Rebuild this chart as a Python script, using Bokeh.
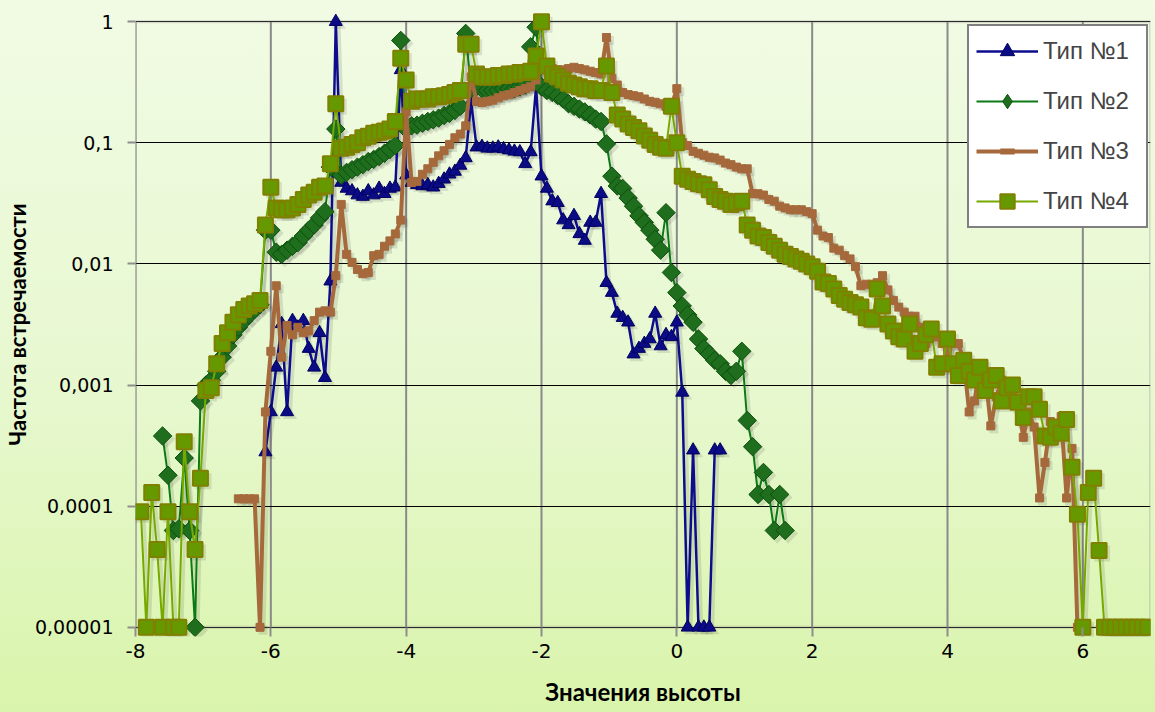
import numpy as np
from bokeh.plotting import figure
from bokeh.models import (FixedTicker, CustomJSTickFormatter, Range1d, Legend,
                          LegendItem, BoxAnnotation)
from bokeh.embed import file_html
from bokeh.resources import INLINE

# ---------------- data ----------------
STEP = 0.08  # spacing of the height values
series_names = ["Тип №1", "Тип №2", "Тип №3", "Тип №4"]
start_index = [-76, -95, -81, -99]  # first height = index * STEP

type1_values = [
    2.8e-4, 6e-4, 1.4e-3, 3.2e-3, 6e-4, 3.4e-3, 3.0e-3, 3.4e-3, 2.0e-3, 1.4e-3, 2.7e-3, 1.15e-3, 7.2e-3,
    1.0, 0.047, 0.042, 0.040, 0.037, 0.036, 0.040, 0.037, 0.042, 0.038, 0.042, 0.043,
    0.4, 0.054, 0.047, 0.045, 0.044, 0.045, 0.043, 0.046, 0.05, 0.055, 0.058, 0.065, 0.075,
    0.22, 0.092, 0.093, 0.09, 0.09, 0.092, 0.089, 0.087, 0.085, 0.084, 0.067, 0.084,
    0.29, 0.053, 0.042, 0.033, 0.032, 0.023, 0.021, 0.025, 0.0177, 0.0156, 0.022, 0.022, 0.038,
    0.007, 0.0058, 0.0039, 0.0036, 0.0033, 0.0018, 0.002, 0.0022, 0.0024, 0.0039, 0.0021, 0.0026, 0.0025,
    0.0033, 8.7e-4, 1e-5, 2.9e-4, 1e-5, 1e-5, 1e-5, 2.9e-4, 2.9e-4,
]

type2_values = [
    3.8e-4, 1.8e-4, 6.3e-5, 6.5e-5, 2.5e-4, 6.3e-5, 1e-5, 7.4e-4, 1.0e-3,
    1.1e-3, 1.3e-3, 1.7e-3, 2.1e-3, 2.6e-3, 3.0e-3, 3.4e-3, 3.8e-3, 4.2e-3, 4.6e-3,
    0.019, 0.019, 0.0125, 0.012, 0.013, 0.014, 0.015, 0.017, 0.019, 0.021, 0.024, 0.027, 0.063,
    0.13, 0.054, 0.057, 0.060, 0.063, 0.066, 0.070, 0.073, 0.077, 0.082, 0.088, 0.095,
    0.70, 0.13, 0.138, 0.14, 0.145, 0.15, 0.155, 0.16, 0.168, 0.175, 0.185, 0.2, 0.8,
    0.28, 0.29, 0.28, 0.27, 0.27, 0.27, 0.28, 0.28, 0.28, 0.29, 0.3, 0.62,
    0.9, 0.29, 0.27, 0.26, 0.245, 0.23, 0.21, 0.20, 0.19, 0.18, 0.17, 0.157, 0.15,
    0.098, 0.053, 0.044, 0.042, 0.035, 0.03, 0.025, 0.022, 0.019, 0.016, 0.013, 0.0265, 0.0085,
    0.0058, 0.0045, 0.0038, 0.0033, 0.0024, 0.002, 0.0018, 0.0016, 0.0015, 0.0013, 0.0012, 0.0013, 0.0019,
    5.1e-4, 3.1e-4, 1.25e-4, 1.9e-4, 1.25e-4, 6.3e-5, 1.25e-4, 6.3e-5,
]

type3_values = [
    1.15e-4, 1.15e-4, 1.15e-4, 1.15e-4, 1e-5, 6e-4, 1.9e-3, 6.6e-3, 1.7e-3, 3.1e-3, 2.6e-3, 3.0e-3,
    2.7e-3, 2.8e-3, 3.4e-3, 4.0e-3, 4.1e-3, 4.0e-3, 8e-3, 0.031, 0.012, 0.0103, 0.009, 0.0083, 0.0085,
    0.0117, 0.012, 0.014, 0.0155, 0.0177, 0.023, 0.18, 0.047, 0.048, 0.055, 0.061, 0.069, 0.078,
    0.086, 0.097, 0.11, 0.118, 0.138, 0.35, 0.22, 0.215, 0.22, 0.225, 0.235, 0.245, 0.25,
    0.26, 0.27, 0.28, 0.29, 0.33, 0.42, 0.42, 0.41, 0.40, 0.40, 0.41, 0.42, 0.41,
    0.40, 0.39, 0.38, 0.37, 0.74, 0.34, 0.30, 0.26, 0.25, 0.245, 0.24, 0.23, 0.22,
    0.216, 0.21, 0.20, 0.20, 0.28, 0.10, 0.095, 0.085, 0.082, 0.079, 0.076, 0.075, 0.072,
    0.068, 0.066, 0.063, 0.061, 0.061, 0.038, 0.038, 0.037, 0.034, 0.033, 0.030, 0.029, 0.028,
    0.028, 0.028, 0.027, 0.026, 0.019, 0.017, 0.0165, 0.0135, 0.013, 0.0117, 0.011, 0.0095, 0.0066,
    0.0068, 0.0068, 0.007, 0.008, 0.0061, 0.005, 0.0044, 0.004, 0.0037, 0.0037, 0.003, 0.0022, 0.0028,
    0.0025, 0.0022, 0.0019, 0.0022, 0.0022, 0.0016, 0.0006, 0.00074, 0.0015, 0.0012, 0.00046, 0.0008, 0.0011,
    0.0009, 0.00085, 0.0007, 0.00037, 0.0006, 0.00045, 0.000117, 0.00023, 0.0005, 0.00045, 0.00055,
    0.000117, 0.0003, 1e-5, 1e-5,
]

type4_values = [
    9e-5, 1e-5, 1.3e-4, 4.4e-5, 1e-5, 9e-5, 1e-5, 1e-5, 3.4e-4, 9e-5, 4.4e-5, 1.7e-4, 9e-4, 9.5e-4,
    1.5e-3, 2.2e-3, 2.7e-3, 3.3e-3, 3.8e-3, 4.2e-3, 4.5e-3, 4.7e-3, 5.0e-3,
    0.021, 0.043, 0.029, 0.028, 0.028, 0.029, 0.031, 0.034, 0.037, 0.039, 0.043, 0.044,
    0.067, 0.21, 0.09, 0.092, 0.097, 0.10, 0.11, 0.113, 0.12, 0.122, 0.125, 0.13, 0.15,
    0.5, 0.33, 0.22, 0.23, 0.23, 0.23, 0.24, 0.24, 0.245, 0.25, 0.26, 0.27, 0.65, 0.65,
    0.37, 0.35, 0.35, 0.35, 0.36, 0.36, 0.37, 0.37, 0.38, 0.38, 0.39, 0.52, 1.0,
    0.43, 0.37, 0.35, 0.33, 0.31, 0.30, 0.29, 0.28, 0.28, 0.27, 0.27, 0.43, 0.26,
    0.17, 0.157, 0.143, 0.134, 0.126, 0.114, 0.105, 0.097, 0.092, 0.09, 0.20, 0.10,
    0.053, 0.050, 0.048, 0.046, 0.045, 0.041, 0.036, 0.034, 0.033, 0.031, 0.032, 0.033,
    0.021, 0.019, 0.017, 0.0165, 0.015, 0.014, 0.013, 0.012, 0.0115, 0.011, 0.0105, 0.010, 0.0095,
    0.0087, 0.0071, 0.0069, 0.0062, 0.0055, 0.0051, 0.0048, 0.0046, 0.0044, 0.0036, 0.0035, 0.0062, 0.0045,
    0.0032, 0.0028, 0.0025, 0.0024, 0.0032, 0.0019, 0.0022, 0.0026, 0.0029, 0.0014, 0.0015,
    0.0024, 0.0015, 0.0012, 0.0016, 0.0013, 0.0011, 0.0014, 0.0009, 0.0011, 0.0012, 0.00074, 0.00095, 0.001,
    0.00072, 0.00054, 0.0008, 0.0008, 0.00063, 0.00038, 0.00037, 0.00045, 0.0004, 0.00052, 0.00021, 8.6e-5,
    1e-5, 1.3e-4, 1.7e-4, 4.3e-5, 1e-5, 1e-5, 1e-5, 1e-5, 1e-5, 1e-5, 1e-5, 1e-5, 1e-5,
]

x_ticks = [-8, -6, -4, -2, 0, 2, 4, 6]
x_tick_labels = ["-8", "-6", "-4", "-2", "0", "2", "4", "6"]
y_ticks = [1e-5, 1e-4, 1e-3, 1e-2, 1e-1, 1]
y_tick_labels = ["0,00001", "0,0001", "0,001", "0,01", "0,1", "1"]
x_title = "Значения высоты"
y_title = "Частота встречаемости"

# ---------------- figure ----------------
W, H = 1155, 712
BL, BR, BT, BB = 135, 5, 12, 76
X_MAX = 7
PAD_DEC = 0.0757  # room (in decades) for markers sitting on the 1 and 0,00001 lines
pad = 10 ** PAD_DEC
p = figure(width=W, height=H,
           x_range=Range1d(x_ticks[0], X_MAX), y_range=Range1d(y_ticks[0] / pad, y_ticks[-1] * pad),
           y_axis_type="log", output_backend="svg", toolbar_location=None,
           min_border_left=BL, min_border_right=BR, min_border_top=BT, min_border_bottom=BB)
p.background_fill_alpha = 0
p.border_fill_alpha = 0
p.outline_line_color = None
p.styles = {"background": "linear-gradient(to bottom, #f1fbe4 0%, #e7f8cf 55%, #d9f4ab 100%)"}

# grid
p.xgrid.visible = False
p.ygrid.ticker = FixedTicker(ticks=y_ticks)
p.ygrid.grid_line_color = "black"
p.ygrid.grid_line_width = 1
p.segment(x0=x_ticks, y0=[y_ticks[0]] * len(x_ticks), x1=x_ticks, y1=[y_ticks[-1]] * len(x_ticks),
          line_color="#8a8a8a", line_width=2, level="underlay")
box = BoxAnnotation(left=x_ticks[0], right=X_MAX, bottom=y_ticks[0], top=y_ticks[-1],
                    fill_alpha=0, line_color="#8e8e8e", line_width=3, level="underlay")
p.add_layout(box)

# axes
p.yaxis.ticker = FixedTicker(ticks=y_ticks)
p.yaxis.formatter = CustomJSTickFormatter(args=dict(tvals=y_ticks, labs=y_tick_labels), code="""
    for (let i = 0; i < tvals.length; i++) {
        if (Math.abs(Math.log10(tvals[i]) - Math.log10(tick)) < 1e-6) return labs[i];
    }
    return "";
""")
p.yaxis.axis_line_color = None
p.yaxis.major_tick_line_color = "#8e8e8e"
p.yaxis.major_tick_line_width = 2
p.yaxis.major_tick_in = 0
p.yaxis.major_tick_out = 8
p.yaxis.minor_tick_line_color = None
p.yaxis.major_label_standoff = 14
p.yaxis.major_label_text_font_size = "19px"
p.yaxis.axis_label = y_title
p.yaxis.axis_label_standoff = 1
p.yaxis.axis_label_text_font_size = "22px"

p.xaxis.ticker = FixedTicker(ticks=x_ticks)
p.xaxis.formatter = CustomJSTickFormatter(args=dict(tvals=x_ticks, labs=x_tick_labels), code="""
    for (let i = 0; i < tvals.length; i++) {
        if (Math.abs(tvals[i] - tick) < 1e-6) return labs[i];
    }
    return "";
""")
p.xaxis.axis_line_color = None
p.xaxis.major_tick_line_color = "#8e8e8e"
p.xaxis.major_tick_line_width = 2
p.xaxis.major_tick_in = 9
p.xaxis.major_tick_out = 0
p.xaxis.minor_tick_line_color = None
p.xaxis.major_label_standoff = 7
p.xaxis.major_label_text_font_size = "20px"
p.xaxis.axis_label = x_title
p.xaxis.axis_label_standoff = 16
p.xaxis.axis_label_text_font_size = "24px"

for ax in (p.xaxis, p.yaxis):
    ax.major_label_text_font = "DejaVu Sans"
    ax.major_label_text_color = "black"
    ax.axis_label_text_font = "Lato"
    ax.axis_label_text_font_style = "bold"
    ax.axis_label_text_color = "black"

# ---------------- series ----------------
def xs(k0, vals):
    return np.round((k0 + np.arange(len(vals))) * STEP, 2)

styles = [
    dict(line="#0c0c8c", lw=2.5, marker="triangle", size=13, fill="#0b0b85", edge="#000060", angle=0, ew=1),
    dict(line="#0b7a14", lw=2, marker="square", size=13, fill="#1e6e1e", edge="#0d4f0d", angle=np.pi / 4, ew=1),
    dict(line="#a5693c", lw=4, marker="square", size=8, fill="#a5693c", edge="#a5693c", angle=0, ew=1),
    dict(line="#77a800", lw=2, marker="square", size=15, fill="#669900", edge="#808000", angle=0, ew=2),
]
# marker shapes used only for the legend swatches
legend_markers = [None, "diamond", "dash", None]
all_values = [type1_values, type2_values, type3_values, type4_values]

# soft drop shadow: the same data shifted 3 px right and 3 px down on screen
frame_w = W - BL - BR
frame_h = H - BT - BB
shift_x = 3 * (X_MAX - x_ticks[0]) / frame_w
shift_y = 10 ** (-3 * (np.log10(y_ticks[-1] / y_ticks[0]) + 2 * PAD_DEC) / frame_h)
for k0, vals, st in zip(start_index, all_values, styles):
    x = xs(k0, vals) + shift_x
    y = np.array(vals) * shift_y
    p.line(x, y, line_color="#303030", line_alpha=0.13, line_width=st["lw"] + 1)
    p.scatter(x, y, marker=st["marker"], size=st["size"] + 1, angle=st["angle"],
              fill_color="#303030", fill_alpha=0.13, line_color=None)

items = []
for name, k0, vals, st, lm in zip(series_names, start_index, all_values, styles, legend_markers):
    x = xs(k0, vals)
    ln = p.line(x, vals, line_color=st["line"], line_width=st["lw"])
    sc = p.scatter(x, vals, marker=st["marker"], size=st["size"], angle=st["angle"],
                   fill_color=st["fill"], line_color=st["edge"], line_width=st["ew"])
    rends = [ln, sc]
    if lm is not None:
        sw = p.scatter(x=[np.nan], y=[np.nan], marker=lm, size=st["size"],
                       fill_color=st["fill"], line_color=st["edge"] if lm != "dash" else st["line"],
                       line_width=st["ew"] if lm != "dash" else 6)
        rends = [ln, sw]
    items.append(LegendItem(label=name, renderers=rends))

legend = Legend(items=items, location=(832, 408), margin=0,
                border_line_color="black", border_line_width=2,
                background_fill_color="white", background_fill_alpha=1,
                label_text_font="Liberation Sans", label_text_font_size="24px",
                padding=7, spacing=14, glyph_height=36, glyph_width=62,
                label_standoff=5, label_width=96)
p.add_layout(legend)

open("out.html", "w").write(file_html(p, INLINE))
